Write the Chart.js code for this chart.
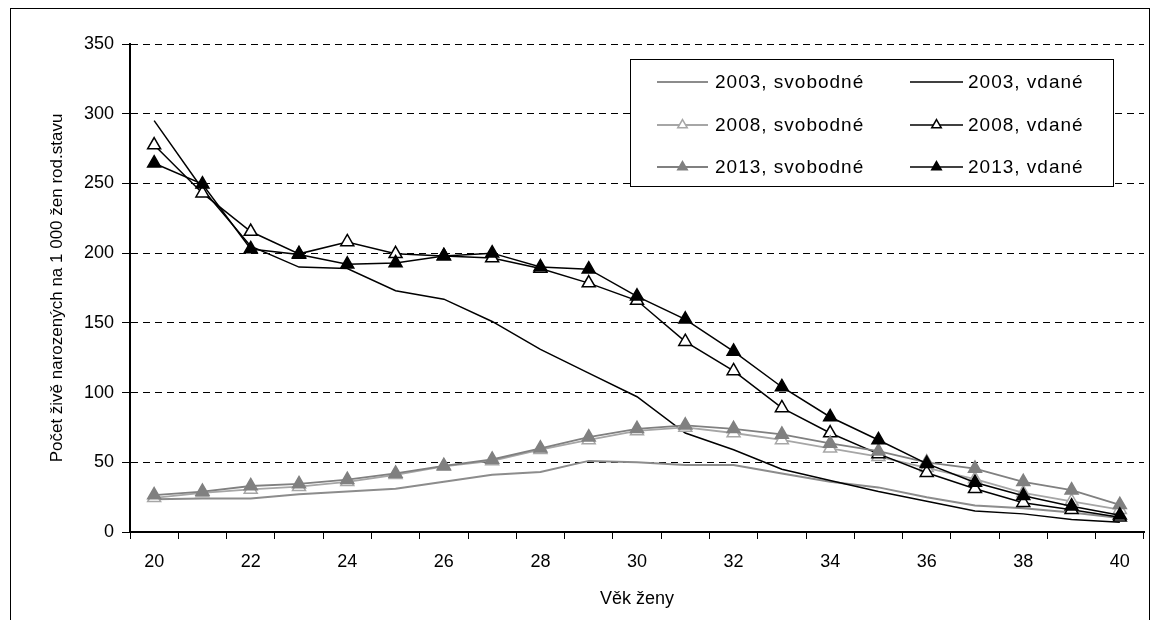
<!DOCTYPE html>
<html><head><meta charset="utf-8">
<script src="https://cdn.jsdelivr.net/npm/chart.js@4.4.1/dist/chart.umd.min.js"></script>
<style>html,body{margin:0;padding:0;background:#fff}canvas{display:block}</style>
</head><body>
<canvas id="c" width="1153" height="620"></canvas>
<script>
// ---- data ----
const ages = ['20','21','22','23','24','25','26','27','28','29','30','31','32','33','34','35','36','37','38','39','40'];
const svob2003 = [23.5, 24, 24, 27, 29, 31, 36, 41, 43, 51, 50, 48, 48, 42, 36, 32, 25, 19, 17, 14, 10];
const vdane2003 = [295, 246, 205, 190, 189, 173, 167, 151, 131, 114, 97, 71, 59, 45, 37, 29, 22, 15, 13, 9, 7];
const svob2008 = [24.5, 28, 30.5, 32.5, 36, 41, 47, 51, 59, 66, 72.5, 75, 71, 66, 60, 54, 46, 38, 28, 22, 16];
const vdane2008 = [277.5, 243, 215.5, 199.5, 208, 199.5, 198, 196.5, 189, 178.5, 166, 136.5, 115.5, 89, 71, 56, 42.5, 31, 21, 16, 10.5];
const svob2013 = [26.5, 29, 33, 34.5, 37.5, 42, 47.5, 52, 60, 68, 74, 76.5, 74, 70, 63.5, 58, 50, 45.5, 36, 30, 19.5];
const vdane2013 = [264.5, 249.5, 203, 199, 192, 193, 198, 200, 190, 188.5, 169, 152.5, 129.5, 104, 82.5, 66, 49, 35.5, 26, 18.5, 12];
const seriesLabels = ['2003, svobodné','2003, vdané','2008, svobodné','2008, vdané','2013, svobodné','2013, vdané'];
const yMin = 0, yMax = 350, yStep = 50;
const xTitle = 'Věk ženy';
const yTitle = 'Počet živě narozených na 1 000 žen rod.stavu';

const FAMILY = '"Liberation Sans", Arial, sans-serif';
const FS = 18;

function ds(label, data, color, width, marker, fill, order) {
  return {
    label, data, borderColor: color, borderWidth: width, tension: 0,
    pointStyle: 'triangle',
    pointRadius: marker ? 7.5 : 0, pointHoverRadius: marker ? 7.5 : 0,
    pointBackgroundColor: fill, pointBorderColor: color, pointBorderWidth: 1.5,
    order, fill: false
  };
}
const datasets = [
  ds(seriesLabels[0], svob2003, '#8c8c8c', 2, false, '#8c8c8c', 6),
  ds(seriesLabels[1], vdane2003, '#000000', 1.5, false, '#000', 5),
  ds(seriesLabels[2], svob2008, '#a6a6a6', 1.8, true, '#ffffff', 4),
  ds(seriesLabels[3], vdane2008, '#000000', 1.5, true, '#ffffff', 3),
  ds(seriesLabels[4], svob2013, '#808080', 1.8, true, '#808080', 2),
  ds(seriesLabels[5], vdane2013, '#000000', 1.5, true, '#000000', 1)
];

const framePlugin = {
  id: 'frame',
  beforeDraw(chart) {
    const c = chart.ctx;
    c.save();
    c.fillStyle = '#fff';
    c.fillRect(0, 0, chart.width, chart.height);
    c.strokeStyle = '#000';
    c.lineWidth = 1;
    c.strokeRect(10.5, 8.5, 1139, 700);
    c.restore();
  }
};

const legendPlugin = {
  id: 'customLegend',
  afterDraw(chart) {
    const c = chart.ctx;
    c.save();
    const bx = 630.5, by = 59.5, bw = 483, bh = 127;
    c.fillStyle = '#fff'; c.fillRect(bx, by, bw, bh);
    c.strokeStyle = '#000'; c.lineWidth = 1; c.setLineDash([]); c.strokeRect(bx, by, bw, bh);
    const rows = [82, 125, 167];
    const cols = [{x1: 657, x2: 708, tx: 715}, {x1: 910, x2: 963, tx: 968}];
    const order = [0, 2, 4, 1, 3, 5];
    order.forEach((di, k) => {
      const d = chart.data.datasets[di];
      const col = cols[Math.floor(k / 3)], y = rows[k % 3];
      c.strokeStyle = d.borderColor; c.lineWidth = d.borderWidth;
      c.beginPath(); c.moveTo(col.x1, y); c.lineTo(col.x2, y); c.stroke();
      if (d.pointRadius > 0) {
        c.fillStyle = d.pointBackgroundColor; c.strokeStyle = d.pointBorderColor; c.lineWidth = d.pointBorderWidth;
        Chart.helpers.drawPoint(c, {pointStyle: 'triangle', radius: 5.5, borderWidth: d.pointBorderWidth, rotation: 0}, (col.x1 + col.x2) / 2, y);
      }
      c.fillStyle = '#000'; c.font = '19px ' + FAMILY; c.textBaseline = 'middle'; c.textAlign = 'left';
      if ('letterSpacing' in c) c.letterSpacing = '1px';
      c.fillText(d.label, col.tx, y + 1);
      if ('letterSpacing' in c) c.letterSpacing = '0px';
    });
    c.restore();
  }
};

new Chart(document.getElementById('c'), {
  type: 'line',
  data: { labels: ages, datasets },
  plugins: [framePlugin, legendPlugin],
  options: {
    responsive: false, animation: false,
    layout: { padding: { top: 44, right: 4, left: 0, bottom: 0 } },
    plugins: { legend: { display: false }, tooltip: { enabled: false } },
    scales: {
      x: {
        type: 'category', offset: true,
        grid: { display: true, offset: true, drawOnChartArea: false, drawTicks: true, tickLength: 7, tickColor: '#000', tickWidth: 1 },
        border: { display: true, color: '#000', width: 2 },
        ticks: {
          autoSkip: false, maxRotation: 0, color: '#000', padding: 12,
          font: { family: FAMILY, size: FS },
          callback: function(v, i) { return i % 2 === 0 ? this.getLabelForValue(v) : ''; }
        },
        title: { display: true, text: xTitle, color: '#000', font: { family: FAMILY, size: FS }, padding: { top: 0, bottom: 10 } },
        afterFit(s) { s.height = 88; }
      },
      y: {
        min: yMin, max: yMax,
        grid: { color: '#000', lineWidth: 1, drawTicks: true, tickLength: 8, tickColor: '#000', tickWidth: 1, tickBorderDash: [] },
        border: { display: true, color: '#000', width: 2, dash: [7, 5] },
        ticks: { stepSize: yStep, color: '#000', padding: 8, font: { family: FAMILY, size: FS } },
        title: { display: true, text: yTitle, color: '#000', font: { family: FAMILY, size: 17 }, padding: { top: 47, bottom: 0 } },
        afterFit(s) { s.width = 130; }
      }
    }
  }
});
</script>
</body></html>
